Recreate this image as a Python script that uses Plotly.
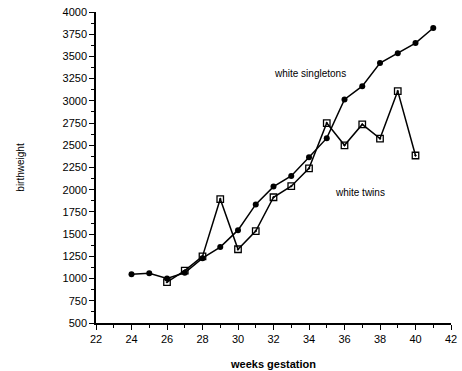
import plotly.graph_objects as go

weeks_single = [24, 25, 26, 27, 28, 29, 30, 31, 32, 33, 34, 35, 36, 37, 38, 39, 40, 41]
singletons = [1050, 1060, 1000, 1065, 1230, 1355, 1545, 1835, 2035, 2155, 2365, 2580, 3015, 3165, 3425, 3535, 3650, 3820]

weeks_twin = [26, 27, 28, 29, 30, 31, 32, 33, 34, 35, 36, 37, 38, 39, 40]
twins = [960, 1090, 1250, 1895, 1330, 1535, 1915, 2040, 2240, 2750, 2500, 2735, 2575, 3110, 2385]

x_ticks = list(range(22, 43, 2))
y_ticks = list(range(500, 4001, 250))

font = "Liberation Sans, Arial, sans-serif"

fig = go.Figure()
fig.add_trace(go.Scatter(
    x=weeks_twin, y=twins, mode="lines+markers",
    line=dict(color="black", width=1.5),
    marker=dict(symbol="square-open-dot", size=6.5, color="black", line=dict(width=1.3)),
    showlegend=False))
fig.add_trace(go.Scatter(
    x=weeks_single, y=singletons, mode="lines+markers",
    line=dict(color="black", width=1.5),
    marker=dict(symbol="circle", size=6, color="black"),
    showlegend=False))

fig.add_annotation(x=34.06, y=3310, text="white singletons", showarrow=False,
                   font=dict(family=font, size=10, color="black"))
fig.add_annotation(x=36.9, y=1965, text="white twins", showarrow=False,
                   font=dict(family=font, size=10, color="black"))

axis_common = dict(
    showgrid=False, zeroline=False, showline=True, linecolor="black", linewidth=1.5,
    ticks="outside", ticklen=5, tickwidth=1.2, tickcolor="black",
    tickfont=dict(family=font, size=11, color="black"), automargin=False,
)

fig.update_xaxes(range=[22, 42], tickvals=x_ticks,
                 minor=dict(dtick=1, ticks="outside", ticklen=3, tickcolor="black", tickwidth=1),
                 title=dict(text="<b>weeks gestation</b>", font=dict(family=font, size=11, color="black"), standoff=16),
                 **axis_common)
fig.update_yaxes(range=[500, 4000], tickvals=y_ticks,
                 minor=dict(dtick=125, tick0=500, ticks="outside", ticklen=3, tickcolor="black", tickwidth=1),
                 title=dict(text="birthweight", font=dict(family=font, size=10, color="black"), standoff=36),
                 **axis_common)

fig.update_layout(
    width=462, height=371,
    margin=dict(l=96, r=11, t=12, b=48),
    paper_bgcolor="white", plot_bgcolor="white",
)

fig.write_html("out.html")
